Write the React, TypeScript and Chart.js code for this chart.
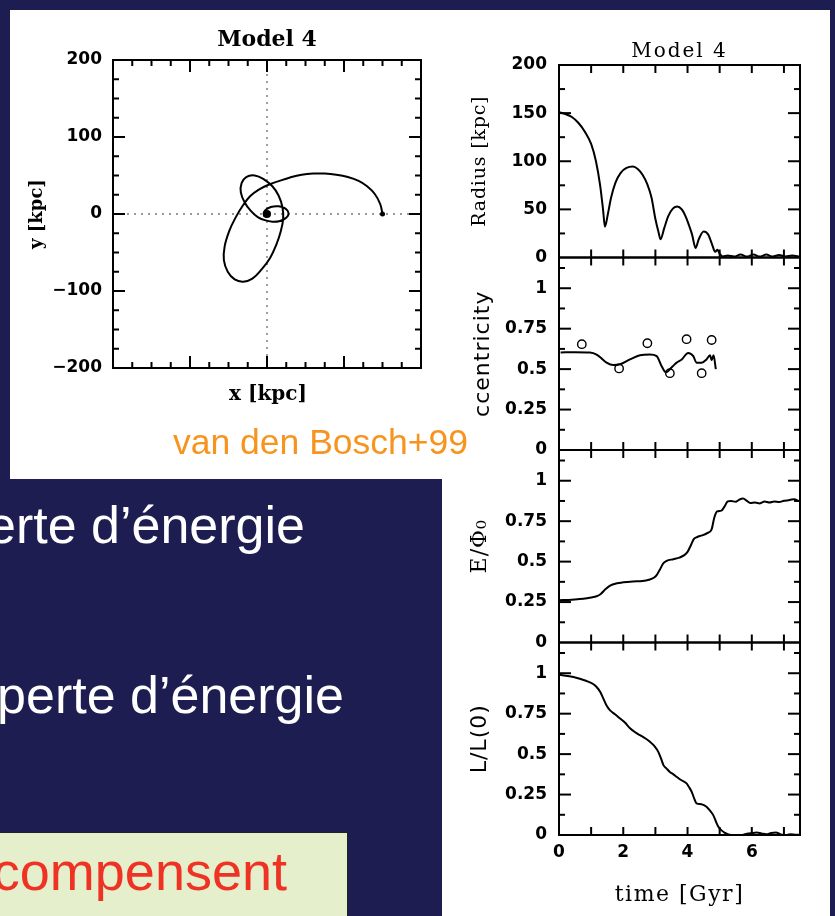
import React, { useEffect, useRef } from "react";
import { Chart, registerables } from "chart.js";

Chart.register(...registerables);

// ---- Orbit in the x-y plane (kpc), in time order ----
const orbitX = [150, 147, 140, 130, 119, 105, 90, 75, 60, 45, 30, 16, 2, -10, -22, -32, -41, -49, -55, -56, -51, -42, -31, -19, -7, 4, 12, 18, 21, 20, 15, 7, -4, -16, -27, -33, -34, -29, -21, -12, -3, 7, 17, 25, 28, 24, 15, 5, -3, -4, 0, 2];
const orbitY = [0, 13, 26, 36, 43, 48, 51, 52.5, 52.5, 51, 47.5, 43, 38, 32, 23, 10, -5, -22, -42, -60, -75, -85, -88, -84, -72, -57, -40, -22, -6, 9, 24, 36, 45, 50, 48, 40, 28, 15, 4, -4, -8, -10, -9, -5, 1, 7, 10, 9, 4, -2, -3, 0];
const orbitStart = { x: 150, y: 0 };
const orbitEnd = { x: 0, y: 0 };
const orbitTicks = [-200, -100, 0, 100, 200];
const orbitTickLabels = ["\u2212200", "\u2212100", "0", "100", "200"];

// ---- Time histories (Gyr) ----
const radiusTime = [0, 0.2, 0.4, 0.6, 0.8, 1.0, 1.15, 1.28, 1.37, 1.43, 1.52, 1.62, 1.76, 1.92, 2.1, 2.3, 2.45, 2.6, 2.75, 2.88, 3.0, 3.1, 3.16, 3.27, 3.4, 3.55, 3.68, 3.82, 3.95, 4.05, 4.14, 4.25, 4.35, 4.5, 4.64, 4.76, 4.86, 4.93, 5.0, 5.1, 5.25, 5.45, 5.65, 5.85, 6.05, 6.25, 6.45, 6.65, 6.85, 7.05, 7.25, 7.5];
const radiusKpc = [151, 149, 146, 140, 131, 118, 100, 75, 50, 32, 45, 62, 78, 88, 93, 94.5, 92, 86, 76, 62, 40, 26, 19, 30, 43, 51, 53, 50, 42, 33, 24, 10, 19, 27, 24, 14, 6, 8, 4, 1, 2, 1, 3, 1, 3, 1, 3, 1, 2.5, 1, 2, 1];

const eccTime = [0.05, 0.5, 0.96, 1.17, 1.33, 1.48, 1.69, 1.9, 2.21, 2.52, 2.83, 3.04, 3.19, 3.33, 3.5, 3.66, 3.82, 4.02, 4.18, 4.28, 4.44, 4.59, 4.7, 4.75, 4.81, 4.88];
const eccLine = [0.603, 0.605, 0.603, 0.59, 0.565, 0.54, 0.525, 0.53, 0.56, 0.586, 0.59, 0.58, 0.52, 0.48, 0.51, 0.54, 0.56, 0.6, 0.58, 0.54, 0.54, 0.56, 0.586, 0.555, 0.585, 0.5];
const eccOrbitTime = [0.71, 1.87, 2.75, 3.45, 3.97, 4.44, 4.75];
const eccOrbit = [0.654, 0.504, 0.66, 0.475, 0.685, 0.475, 0.68];

const energyTime = [0, 0.4, 0.76, 1.0, 1.17, 1.3, 1.45, 1.59, 1.8, 2.0, 2.3, 2.6, 2.8, 2.95, 3.05, 3.15, 3.25, 3.35, 3.56, 3.75, 3.9, 4.0, 4.1, 4.2, 4.3, 4.45, 4.6, 4.75, 4.83, 4.92, 5.05, 5.15, 5.25, 5.35, 5.5, 5.6, 5.73, 5.85, 5.95, 6.1, 6.25, 6.4, 6.55, 6.7, 6.85, 7.0, 7.15, 7.3, 7.5];
const energyRatio = [0.261, 0.265, 0.27, 0.278, 0.286, 0.3, 0.33, 0.352, 0.366, 0.372, 0.377, 0.38, 0.388, 0.4, 0.42, 0.455, 0.49, 0.505, 0.515, 0.525, 0.54, 0.56, 0.6, 0.64, 0.652, 0.662, 0.675, 0.7, 0.77, 0.81, 0.815, 0.84, 0.872, 0.875, 0.87, 0.882, 0.89, 0.875, 0.862, 0.865, 0.86, 0.872, 0.866, 0.872, 0.868, 0.876, 0.88, 0.885, 0.872];

const angTime = [0, 0.45, 0.86, 1.05, 1.17, 1.28, 1.38, 1.48, 1.59, 1.75, 1.9, 2.05, 2.21, 2.37, 2.52, 2.68, 2.83, 2.97, 3.09, 3.18, 3.25, 3.35, 3.45, 3.56, 3.66, 3.8, 3.97, 4.05, 4.13, 4.2, 4.28, 4.43, 4.59, 4.7, 4.8, 4.88, 4.96, 5.05, 5.15, 5.3, 5.5, 5.7, 5.85, 6.0, 6.15, 6.3, 6.45, 6.6, 6.75, 6.9, 7.05, 7.2, 7.35, 7.5];
const angRatio = [0.99, 0.977, 0.952, 0.935, 0.915, 0.885, 0.843, 0.8, 0.77, 0.745, 0.72, 0.695, 0.66, 0.635, 0.617, 0.598, 0.576, 0.55, 0.514, 0.47, 0.432, 0.41, 0.39, 0.375, 0.36, 0.34, 0.319, 0.295, 0.267, 0.23, 0.196, 0.19, 0.175, 0.15, 0.123, 0.085, 0.051, 0.03, 0.015, 0.002, 0, 0, 0.008, 0.012, 0.015, 0.01, 0.005, 0.012, 0.015, 0.004, 0, 0.004, 0.002, 0];

const timeTicks = [0, 2, 4, 6];
const radiusTicks = [0, 50, 100, 150, 200];
const unitTicks = [0, 0.25, 0.5, 0.75, 1];
const unitTickLabels = ["0", "0.25", "0.5", "0.75", "1"];

const NAVY = "#1e1d52";
const tickFont = 'bold 17px "DejaVu Sans", sans-serif';

const pts = (xs: number[], ys: number[]) => xs.map((x, i) => ({ x, y: ys[i] }));

function label(ctx: CanvasRenderingContext2D, text: string, x: number, y: number, font: string, rotate = false, spacing = 0, align: CanvasTextAlign = "center") {
  ctx.save();
  ctx.translate(x, y);
  if (rotate) ctx.rotate(-Math.PI / 2);
  ctx.font = font;
  ctx.fillStyle = "#000";
  ctx.textAlign = align;
  ctx.textBaseline = "middle";
  if ("letterSpacing" in ctx) (ctx as any).letterSpacing = `${spacing}px`;
  ctx.fillText(text, 0, 0);
  ctx.restore();
}

function line(ctx: CanvasRenderingContext2D, x1: number, y1: number, x2: number, y2: number) {
  ctx.beginPath();
  ctx.moveTo(x1, y1);
  ctx.lineTo(x2, y2);
  ctx.stroke();
}

// Frame, inward ticks, zero lines and labels of the x-y orbit plot
const orbitFrame = {
  id: "orbitFrame",
  beforeDatasetsDraw(chart: any) {
    const { ctx, chartArea: a, scales } = chart;
    const x0 = scales.x.getPixelForValue(0);
    const y0 = scales.y.getPixelForValue(0);
    ctx.save();
    ctx.strokeStyle = "#777";
    ctx.lineWidth = 1.4;
    ctx.setLineDash([2, 5]);
    line(ctx, x0, a.top, x0, a.bottom);
    line(ctx, a.left, y0, a.right, y0);
    ctx.restore();
  },
  afterDraw(chart: any) {
    const { ctx, chartArea: a, scales } = chart;
    const xs = scales.x, ys = scales.y;
    ctx.save();
    ctx.strokeStyle = "#000";
    ctx.lineWidth = 2;
    ctx.strokeRect(a.left, a.top, a.right - a.left, a.bottom - a.top);
    for (let v = -175; v <= 175; v += 25) {
      const len = v % 100 === 0 ? 12 : 6;
      const px = xs.getPixelForValue(v);
      line(ctx, px, a.bottom, px, a.bottom - len);
      line(ctx, px, a.top, px, a.top + len);
      const py = ys.getPixelForValue(v);
      line(ctx, a.left, py, a.left + len, py);
      line(ctx, a.right, py, a.right - len, py);
    }
    orbitTicks.forEach((v, i) => {
      label(ctx, orbitTickLabels[i], a.left - 11, ys.getPixelForValue(v), tickFont, false, 0, "right");
    });
    const cx = (a.left + a.right) / 2;
    label(ctx, "Model 4", cx, a.top - 20, 'bold 22px "DejaVu Serif", serif');
    label(ctx, "x [kpc]", cx + 1, a.bottom + 27, 'bold 20px "DejaVu Serif", serif');
    label(ctx, "y [kpc]", a.left - 76, (a.top + a.bottom) / 2, 'bold 18px "DejaVu Serif", serif', true);
    ctx.restore();
  },
};

const panels = [
  { id: "yR", ticks: radiusTicks, labels: radiusTicks.map(String), minor: 25, major: 50, title: "Radius [kpc]", font: '19px "DejaVu Serif", serif', dx: 79, sp: 0.8 },
  { id: "yE", ticks: unitTicks, labels: unitTickLabels, minor: 0.125, major: 0.25, title: "ccentricity", font: '22px "DejaVu Sans", sans-serif', dx: 76, sp: 1 },
  { id: "yP", ticks: unitTicks, labels: unitTickLabels, minor: 0.125, major: 0.25, title: "E/\u03A6\u2080", font: '22px "DejaVu Serif", serif', dx: 79, sp: 1 },
  { id: "yL", ticks: unitTicks, labels: unitTickLabels, minor: 0.125, major: 0.25, title: "L/L(0)", font: '22px "DejaVu Sans", sans-serif', dx: 79, sp: 1 },
];

// Frames, ticks and labels of the four stacked time panels
const panelFrames = {
  id: "panelFrames",
  afterDraw(chart: any) {
    const { ctx, chartArea: a, scales } = chart;
    const xs = scales.x;
    ctx.save();
    ctx.strokeStyle = "#000";
    ctx.lineWidth = 2;
    panels.forEach((p) => {
      const s = scales[p.id];
      const top = s.getPixelForValue(s.max);
      const bottom = s.getPixelForValue(s.min);
      ctx.strokeRect(a.left, top, a.right - a.left, bottom - top);
      for (let t = 1; t <= 7; t++) {
        const px = xs.getPixelForValue(t);
        line(ctx, px, bottom, px, bottom - 8);
        line(ctx, px, top, px, top + 8);
      }
      for (let v = p.minor; v < s.max - 1e-6; v += p.minor) {
        const isMajor = Math.abs(v / p.major - Math.round(v / p.major)) < 1e-6;
        const len = isMajor ? 12 : 6;
        const py = s.getPixelForValue(v);
        line(ctx, a.left, py, a.left + len, py);
        line(ctx, a.right, py, a.right - len, py);
      }
      p.ticks.forEach((v, i) => {
        label(ctx, p.labels[i], a.left - 12, s.getPixelForValue(v), tickFont, false, 0, "right");
      });
      label(ctx, p.title, a.left - p.dx, (top + bottom) / 2, p.font, true, p.sp);
    });
    timeTicks.forEach((t) => {
      label(ctx, String(t), xs.getPixelForValue(t), a.bottom + 18, tickFont);
    });
    const cx = (a.left + a.right) / 2;
    label(ctx, "Model 4", cx, a.top - 13, '20px "DejaVu Serif", serif', false, 2);
    label(ctx, "time [Gyr]", cx, a.bottom + 60, '22px "DejaVu Serif", serif', false, 1.5);
    ctx.restore();
  },
};

const curve = { borderColor: "#000", borderWidth: 2, pointRadius: 0, showLine: true, fill: false };

function panelScale(weight: number, max: number) {
  return { type: "linear", display: false, position: "left", stack: "panels", stackWeight: 1, weight, min: 0, max };
}

export default function App() {
  const orbitRef = useRef<HTMLCanvasElement>(null);
  const historyRef = useRef<HTMLCanvasElement>(null);

  useEffect(() => {
    const orbit = new Chart(orbitRef.current as HTMLCanvasElement, {
      type: "scatter",
      data: {
        datasets: [
          { ...curve, data: pts(orbitX, orbitY), tension: 0.4 },
          { data: [orbitStart], pointRadius: 2.5, pointBackgroundColor: "#000", pointBorderWidth: 0 },
          { data: [orbitEnd], pointRadius: 4, pointBackgroundColor: "#000", pointBorderWidth: 0 },
        ],
      } as any,
      options: {
        animation: false,
        responsive: false,
        maintainAspectRatio: false,
        layout: { padding: { left: 103, right: 21, top: 50, bottom: 111 } },
        scales: {
          x: { type: "linear", display: false, min: -200, max: 200 },
          y: { type: "linear", display: false, min: -200, max: 200 },
        },
        plugins: { legend: { display: false }, tooltip: { enabled: false } },
      } as any,
      plugins: [orbitFrame],
    });

    const history = new Chart(historyRef.current as HTMLCanvasElement, {
      type: "scatter",
      data: {
        datasets: [
          { ...curve, data: pts(radiusTime, radiusKpc), yAxisID: "yR", cubicInterpolationMode: "monotone" },
          { ...curve, data: pts(eccTime, eccLine), yAxisID: "yE", cubicInterpolationMode: "monotone" },
          {
            data: pts(eccOrbitTime, eccOrbit), yAxisID: "yE", showLine: false, pointStyle: "circle",
            pointRadius: 4.2, pointBorderWidth: 1.4, pointBorderColor: "#000", pointBackgroundColor: "rgba(0,0,0,0)",
          },
          { ...curve, data: pts(energyTime, energyRatio), yAxisID: "yP", cubicInterpolationMode: "monotone" },
          { ...curve, data: pts(angTime, angRatio), yAxisID: "yL", cubicInterpolationMode: "monotone" },
        ],
      } as any,
      options: {
        animation: false,
        responsive: false,
        maintainAspectRatio: false,
        layout: { padding: { left: 117, right: 30, top: 55, bottom: 81 } },
        scales: {
          x: { type: "linear", display: false, min: 0, max: 7.5 },
          yR: panelScale(4, 200),
          yE: panelScale(3, 1.19),
          yP: panelScale(2, 1.19),
          yL: panelScale(1, 1.19),
        },
        plugins: { legend: { display: false }, tooltip: { enabled: false } },
      } as any,
      plugins: [panelFrames],
    });

    return () => {
      orbit.destroy();
      history.destroy();
    };
  }, []);

  const sans = '"Liberation Sans", Arial, Helvetica, sans-serif';
  const text: React.CSSProperties = { position: "absolute", whiteSpace: "nowrap", fontFamily: sans, lineHeight: 1 };

  return (
    <div style={{ position: "fixed", left: 0, top: 0, width: 835, height: 916, overflow: "hidden", background: NAVY }}>
      <div style={{ position: "absolute", left: 442, top: 10, width: 388, height: 906, background: "#fff" }}>
        <canvas ref={historyRef} width={388} height={906} style={{ display: "block" }} />
      </div>
      <div style={{ position: "absolute", left: 10, top: 10, width: 432, height: 469, background: "#fff" }}>
        <canvas ref={orbitRef} width={432} height={469} style={{ display: "block" }} />
      </div>
      <div style={{ ...text, left: 173, top: 425, fontSize: 35.5, color: "#f7941d" }}>van den Bosch+99</div>
      <div style={{ ...text, right: 530, top: 499, fontSize: 52, color: "#fff" }}>perte d’énergie</div>
      <div style={{ ...text, right: 491, top: 669, fontSize: 52, color: "#fff" }}>perte d’énergie</div>
      <div style={{ position: "absolute", left: -2, top: 832, width: 348, height: 100, background: "#e6efcb", border: "1px solid #222" }} />
      <div style={{ ...text, right: 548, top: 844, fontSize: 54, color: "#ee3224" }}>compensent</div>
    </div>
  );
}
